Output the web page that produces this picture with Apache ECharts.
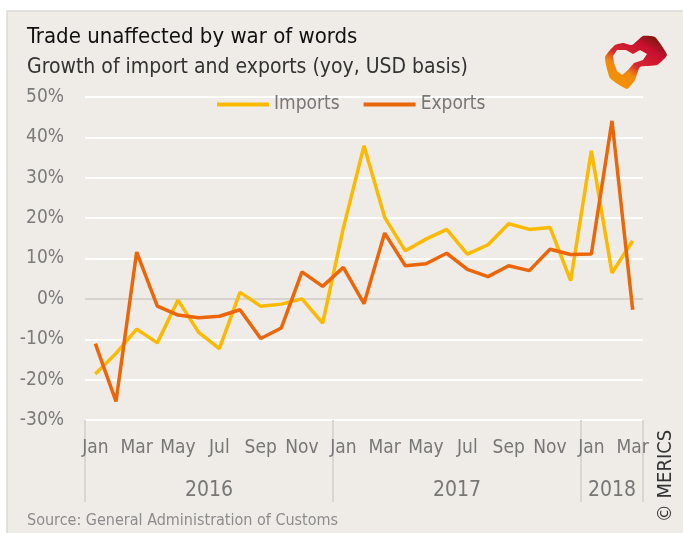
<!DOCTYPE html>
<html lang="en">
  <head>
    <meta charset="UTF-8" />
    <script src="https://cdn.jsdelivr.net/npm/echarts@6/dist/echarts.min.js"></script>
    <title>Trade unaffected by war of words</title>
    <style>
      html, body { margin: 0; padding: 0; background: #fff; }
    </style>
  </head>
  <body>
    <div id="container" style="width: 683px; height: 533px;"></div>

    <script>
      // months Jan 2016 .. Mar 2018
      const monthLabels = [
        "Jan", "Feb", "Mar", "Apr", "May", "Jun", "Jul", "Aug", "Sep", "Oct", "Nov", "Dec",
        "Jan", "Feb", "Mar", "Apr", "May", "Jun", "Jul", "Aug", "Sep", "Oct", "Nov", "Dec",
        "Jan", "Feb", "Mar",
      ];
      const years = ["2016", "2017", "2018"];
      const monthsPerYear = [12, 12, 3];

      // yoy growth, %
      const imports = [
        -18.6, -13.5, -7.5, -10.9, -0.3, -8.3, -12.3, 1.6, -1.8, -1.3, 0.0, -6.0,
        17.5, 37.9, 20.2, 11.9, 14.8, 17.2, 11.1, 13.4, 18.6, 17.2, 17.7, 4.5,
        36.7, 6.4, 14.4,
      ];
      const exports = [
        -11.1, -25.4, 11.6, -1.8, -4.0, -4.7, -4.3, -2.7, -9.8, -7.2, 6.7, 3.1,
        7.8, -1.2, 16.3, 8.2, 8.7, 11.3, 7.3, 5.5, 8.2, 7.0, 12.3, 11.0,
        11.1, 44.1, -2.7,
      ];

      const yTicks = { min: -30, max: 50, step: 10 };

      const FONT = '"Liberation Sans Narrow", "DejaVu Sans Condensed", sans-serif';
      const BG = "#efebe6";

      // year separators and year label positions on a 0..n scale
      const yearBounds = [0];
      monthsPerYear.forEach((n) => yearBounds.push(yearBounds[yearBounds.length - 1] + n));
      const yearMids = years.map((y, i) => (yearBounds[i] + yearBounds[i + 1]) / 2);

      // zero line grey, rest white
      const splitColors = [];
      for (let v = yTicks.min; v <= yTicks.max; v += yTicks.step) {
        splitColors.push(v === 0 ? "#d6d3cf" : "#ffffff");
      }

      const myChart = echarts.init(document.getElementById("container"));

      const option = {
        animation: false,
        backgroundColor: "#ffffff",
        textStyle: { fontFamily: FONT },
        title: [
          {
            text: "Trade unaffected by war of words",
            left: 27,
            top: 26,
            padding: 0,
            textStyle: { fontFamily: FONT, fontSize: 22, fontWeight: "normal", color: "#111" },
          },
          {
            text: "Growth of import and exports (yoy, USD basis)",
            left: 27,
            top: 57,
            padding: 0,
            textStyle: { fontFamily: FONT, fontSize: 21, fontWeight: "normal", color: "#333" },
          },
        ],
        legend: {
          top: 95,
          left: 217,
          padding: 0,
          icon: "rect",
          itemWidth: 52,
          itemHeight: 4,
          itemGap: 24,
          textStyle: { fontFamily: FONT, fontSize: 19, color: "#777" },
          data: ["Imports", "Exports"],
        },
        grid: {
          top: 97,
          left: 85,
          right: 40,
          bottom: 113,
        },
        xAxis: [
          {
            type: "category",
            position: "bottom",
            data: monthLabels,
            boundaryGap: true,
            axisLine: { show: false },
            axisTick: { show: false },
            axisLabel: {
              interval: 1,
              margin: 19,
              fontFamily: FONT,
              fontSize: 19,
              color: "#777",
            },
          },
          {
            type: "value",
            position: "bottom",
            min: 0,
            max: monthLabels.length,
            axisLine: { show: false },
            splitLine: { show: false },
            axisTick: {
              show: true,
              customValues: yearBounds,
              length: 82,
              lineStyle: { color: "#d9d6d1", width: 2 },
            },
            axisLabel: {
              customValues: yearMids,
              margin: 60,
              fontFamily: FONT,
              fontSize: 21,
              color: "#777",
              formatter: (v) => years[yearMids.indexOf(v)],
            },
          },
        ],
        yAxis: {
          type: "value",
          min: yTicks.min,
          max: yTicks.max,
          interval: yTicks.step,
          axisLine: { show: false },
          axisTick: { show: false },
          axisLabel: {
            formatter: "{value}%",
            margin: 21,
            fontFamily: FONT,
            fontSize: 19,
            color: "#7b7b7b",
          },
          splitLine: {
            lineStyle: { color: splitColors, width: 2 },
          },
        },
        series: [
          {
            name: "Imports",
            type: "line",
            data: imports,
            symbol: "none",
            color: "#fbba00",
            lineStyle: { width: 3.5, color: "#fbba00" },
          },
          {
            name: "Exports",
            type: "line",
            data: exports,
            symbol: "none",
            color: "#eb6608",
            lineStyle: { width: 3.5, color: "#eb6608" },
          },
        ],
        graphic: [
          {
            type: "rect",
            z: -10,
            silent: true,
            shape: { x: 7, y: 11, width: 700, height: 540 },
            style: { fill: BG, stroke: "#dcdad7", lineWidth: 1.5 },
          },
          {
            type: "text",
            x: 27,
            y: 521,
            style: {
              text: "Source: General Administration of Customs",
              fontFamily: FONT,
              fontSize: 16,
              fill: "#8c8c8c",
              verticalAlign: "middle",
            },
          },
          {
            type: "text",
            x: 666,
            y: 476,
            rotation: Math.PI / 2,
            style: {
              text: "© MERICS",
              fontFamily: FONT,
              fontSize: 20,
              fill: "#333",
              align: "center",
              verticalAlign: "middle",
            },
          },
          // logo blob
          {
            type: "polygon",
            silent: true,
            z: 10,
            shape: {
              smooth: 0.15,
              points: [
                [605, 57], [615, 45], [623, 43], [632, 45], [643, 36],
                [655, 37], [667, 55], [657, 65], [640, 67], [635, 80],
                [627, 89], [610, 78],
              ],
            },
            style: {
              fill: {
                type: "linear",
                x: 0.3, y: 1, x2: 0.85, y2: 0,
                colorStops: [
                  { offset: 0, color: "#f39200" },
                  { offset: 0.25, color: "#f08a10" },
                  { offset: 0.42, color: "#d8262f" },
                  { offset: 0.75, color: "#c8102e" },
                  { offset: 1, color: "#6b1a0a" },
                ],
              },
            },
          },
          {
            type: "polygon",
            silent: true,
            z: 11,
            shape: {
              points: [
                [613, 56], [617, 50], [626, 50], [633, 54], [640, 50],
                [647, 54], [643, 60], [634, 63], [628, 70], [622, 75],
                [617, 71], [614, 63],
              ],
            },
            style: { fill: BG },
          },
        ],
      };

      myChart.setOption(option);
    </script>
  </body>
</html>
